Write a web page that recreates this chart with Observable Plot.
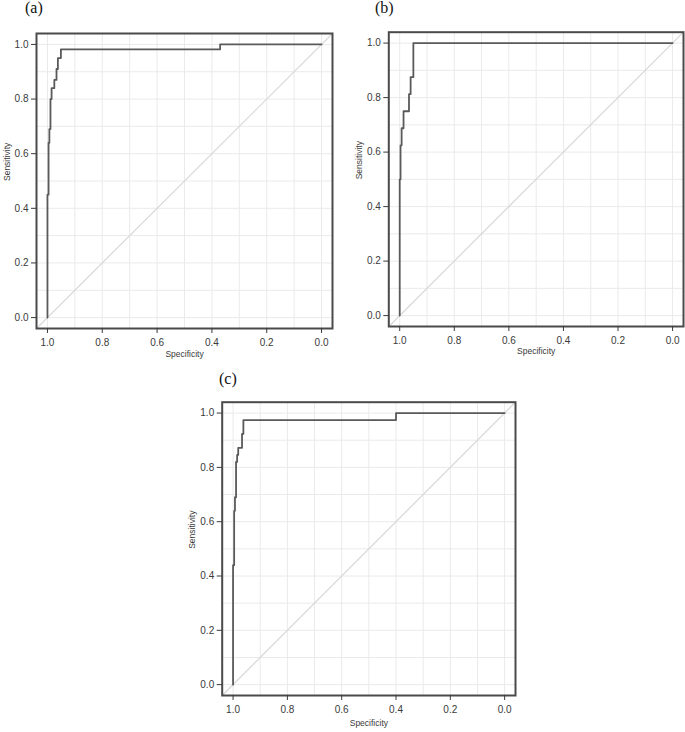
<!DOCTYPE html>
<html>
<head>
<meta charset="utf-8">
<script src="https://cdn.jsdelivr.net/npm/d3@7"></script>
<script src="https://cdn.jsdelivr.net/npm/@observablehq/plot@0.6"></script>
<style>
  html, body { margin: 0; padding: 0; background: #fff; }
  #wrap { position: relative; width: 685px; height: 732px; background: #fff; overflow: hidden; }
  .panel { position: absolute; }
  .tag { position: absolute; font-family: "Liberation Serif", "Times New Roman", serif; font-size: 16px; line-height: 16px; color: #111; }
</style>
</head>
<body>
<div id="wrap"></div>
<script>
// ---- Data ----
const axisTicks = [0, 0.2, 0.4, 0.6, 0.8, 1.0];
const gridTicks = [0, 0.1, 0.2, 0.3, 0.4, 0.5, 0.6, 0.7, 0.8, 0.9, 1.0];
const panelTags = ["(a)", "(b)", "(c)"];
const xLabel = "Specificity";
const yLabel = "Sensitivity";

// Panel (a) ROC curve vertices
const specA = [1, 1, 0.996, 0.996, 0.993, 0.993, 0.989, 0.989, 0.985, 0.985, 0.975, 0.975, 0.967, 0.967, 0.962, 0.962, 0.951, 0.951, 0.37, 0.37, 0];
const sensA = [0, 0.45, 0.45, 0.64, 0.64, 0.69, 0.69, 0.80, 0.80, 0.84, 0.84, 0.87, 0.87, 0.91, 0.91, 0.95, 0.95, 0.982, 0.982, 1, 1];

// Panel (b)
const specB = [1, 1, 0.997, 0.997, 0.993, 0.993, 0.986, 0.986, 0.966, 0.966, 0.960, 0.960, 0.950, 0.950, 0];
const sensB = [0, 0.50, 0.50, 0.625, 0.625, 0.6875, 0.6875, 0.75, 0.75, 0.8125, 0.8125, 0.875, 0.875, 1, 1];

// Panel (c)
const specC = [1, 1, 0.996, 0.996, 0.993, 0.993, 0.989, 0.989, 0.985, 0.985, 0.981, 0.981, 0.967, 0.967, 0.962, 0.962, 0.40, 0.40, 0];
const sensC = [0, 0.44, 0.44, 0.64, 0.64, 0.69, 0.69, 0.82, 0.82, 0.846, 0.846, 0.872, 0.872, 0.923, 0.923, 0.974, 0.974, 1, 1];

// ---- Drawing ----
const xDomain = [1.04, -0.04];
const yDomain = [-0.04, 1.04];

function rocPanel(spec, sens, g) {
  const pts = spec.map((s, i) => ({spec: s, sens: sens[i]}));
  const diag = xDomain.map(s => ({spec: s, sens: 1 - s}));
  return Plot.plot({
    width: g.width, height: g.height,
    marginLeft: g.ml, marginRight: g.mr, marginTop: g.mt, marginBottom: g.mb,
    x: {domain: xDomain, label: null},
    y: {domain: yDomain, label: null},
    style: {fontFamily: "Liberation Sans, Arial, sans-serif", fontSize: "10px", color: "#3a3a3a", background: "transparent"},
    marks: [
      Plot.gridX(gridTicks, {stroke: "#eaeaea", strokeOpacity: 1}),
      Plot.gridY(gridTicks, {stroke: "#eaeaea", strokeOpacity: 1}),
      Plot.line(diag, {x: "spec", y: "sens", stroke: "#d8d8d8", strokeWidth: 1.2}),
      Plot.line(pts, {x: "spec", y: "sens", stroke: "#5a5a5a", strokeWidth: 1.8}),
      Plot.frame({stroke: "#4a4a4a", strokeWidth: 2}),
      Plot.axisX(axisTicks, {tickFormat: d3.format(".1f"), tickSize: 5, tickPadding: 5, label: null}),
      Plot.axisY(axisTicks, {tickFormat: d3.format(".1f"), tickSize: 5, tickPadding: 3, label: null}),
      Plot.text([xLabel], {text: d => d, frameAnchor: "bottom", dy: g.xl, fontSize: 8.5, fill: "#3a3a3a"}),
      Plot.text([yLabel], {text: d => d, frameAnchor: "left", dx: g.yl, rotate: -90, fontSize: 8.5, fill: "#3a3a3a"})
    ]
  });
}

const wrap = document.getElementById("wrap");
const layouts = [
  {left: 0,   top: 0,   width: 340, height: 362, ml: 36,   mr: 8,  mt: 33,   mb: 34, xl: 28, yl: -29.5, tag: {left: 25, top: 0}},
  {left: 340, top: 0,   width: 345, height: 360, ml: 48.3, mr: 2,  mt: 31.7, mb: 34, xl: 27, yl: -30,   tag: {left: 375, top: 0}},
  {left: 180, top: 360, width: 360, height: 372, ml: 41.7, mr: 25, mt: 41.7, mb: 37, xl: 30, yl: -30,   tag: {left: 219, top: 371}}
];
const series = [[specA, sensA], [specB, sensB], [specC, sensC]];

layouts.forEach((g, i) => {
  const div = document.createElement("div");
  div.className = "panel";
  div.style.left = g.left + "px";
  div.style.top = g.top + "px";
  div.appendChild(rocPanel(series[i][0], series[i][1], g));
  wrap.appendChild(div);
  const tag = document.createElement("div");
  tag.className = "tag";
  tag.style.left = g.tag.left + "px";
  tag.style.top = g.tag.top + "px";
  tag.textContent = panelTags[i];
  wrap.appendChild(tag);
});
</script>
</body>
</html>
